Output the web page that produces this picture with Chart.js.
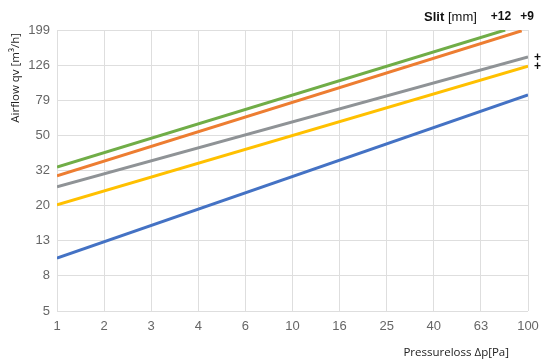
<!DOCTYPE html>
<html>
<head>
<meta charset="utf-8">
<script src="https://cdn.jsdelivr.net/npm/chart.js@4"></script>
<style>
  html, body { margin: 0; padding: 0; background: #fff; }
  #wrap { width: 541px; height: 363px; position: relative; }
</style>
</head>
<body>
<div id="wrap"><canvas id="chart"></canvas></div>
<script>
// Tick labels (both axes are log, equally spaced at 10^0.2 steps)
const xTickLabels = ['1', '2', '3', '4', '6', '10', '16', '25', '40', '63', '100'];
const yTickLabels = ['5', '8', '13', '20', '32', '50', '79', '126', '199'];

// Series: start and end of each straight line (pressure loss, airflow)
const slitNames = ['+12', '+9', '+', '+', ''];
const seriesColors = ['#70ad47', '#ed7d31', '#8f9396', '#ffc000', '#4472c4'];
const xStart = [1, 1, 1, 1, 1];
const xEnd = [80, 94, 100, 100, 100];
const yStart = [33, 29.4, 25.5, 20.1, 10];
const yEnd = [199, 197, 140, 124, 85];

const datasets = slitNames.map((name, i) => ({
    label: name,
    data: [{ x: xStart[i], y: yStart[i] }, { x: xEnd[i], y: yEnd[i] }],
    borderColor: seriesColors[i],
    borderWidth: 3,
    pointRadius: 0,
    fill: false
}));

// Custom texts: slit labels at line ends, legend header and axis titles
const textPlugin = {
    id: 'texts',
    afterDraw(chart) {
        const ctx = chart.ctx;
        const ys = chart.scales.y;
        ctx.save();
        ctx.fillStyle = '#111';
        ctx.textBaseline = 'middle';

        ctx.font = 'bold 13px "Liberation Sans", Arial, sans-serif';
        ctx.textAlign = 'left';
        ctx.fillText('Slit', 424, 17);
        ctx.font = '13px "Liberation Sans", Arial, sans-serif';
        ctx.fillText('[mm]', 448, 17);

        ctx.font = 'bold 12px "Liberation Sans", Arial, sans-serif';
        ctx.textAlign = 'center';
        ctx.fillText(slitNames[0], 501, 17);
        ctx.fillText(slitNames[1], 527, 17);
        ctx.textAlign = 'left';
        for (let i = 2; i < 4; i++) {
            const py = ys.getPixelForValue(yEnd[i]);
            ctx.fillText(slitNames[i], 534, py + 1);
        }

        ctx.fillStyle = '#222';
        ctx.font = '11.5px "Open Sans", "Liberation Sans", sans-serif';
        ctx.textAlign = 'right';
        ctx.fillText('Pressureloss \u0394p[Pa]', 509, 353);

        ctx.translate(16, 33);
        ctx.rotate(-Math.PI / 2);
        ctx.textAlign = 'right';
        ctx.font = '11.5px "Open Sans", "Liberation Sans", sans-serif';
        ctx.fillText('Airflow qv [m\u00b3/h]', 0, 0);
        ctx.restore();
    }
};

const tickFont = { family: '"Liberation Sans", Arial, sans-serif', size: 13 };

new Chart(document.getElementById('chart'), {
    type: 'line',
    data: { datasets },
    options: {
        responsive: true,
        maintainAspectRatio: false,
        animation: false,
        layout: { padding: { top: 30, right: 13, left: 0, bottom: 0 } },
        plugins: { legend: { display: false }, tooltip: { enabled: false } },
        scales: {
            x: {
                type: 'logarithmic',
                min: 1,
                max: 100,
                afterBuildTicks: axis => {
                    axis.ticks = xTickLabels.map((l, k) => ({ value: Math.pow(10, 0.2 * k) }));
                },
                afterFit: axis => {
                    axis.height = 52;
                    axis.paddingRight = 0;
                    axis.paddingLeft = 0;
                },
                grid: { color: '#dedede', drawTicks: false },
                border: { display: false },
                ticks: {
                    color: '#666',
                    font: tickFont,
                    padding: 8,
                    maxRotation: 0,
                    autoSkip: false,
                    callback: (v, i) => xTickLabels[i]
                }
            },
            y: {
                type: 'logarithmic',
                min: 5,
                max: 5 * Math.pow(10, 1.6),
                afterBuildTicks: axis => {
                    axis.ticks = yTickLabels.map((l, k) => ({ value: 5 * Math.pow(10, 0.2 * k) }));
                },
                afterFit: axis => { axis.width = 57; },
                grid: { color: '#dedede', drawTicks: false },
                border: { display: false },
                ticks: {
                    color: '#666',
                    font: tickFont,
                    padding: 7,
                    autoSkip: false,
                    callback: (v, i) => yTickLabels[i]
                }
            }
        }
    },
    plugins: [textPlugin]
});
</script>
</body>
</html>
